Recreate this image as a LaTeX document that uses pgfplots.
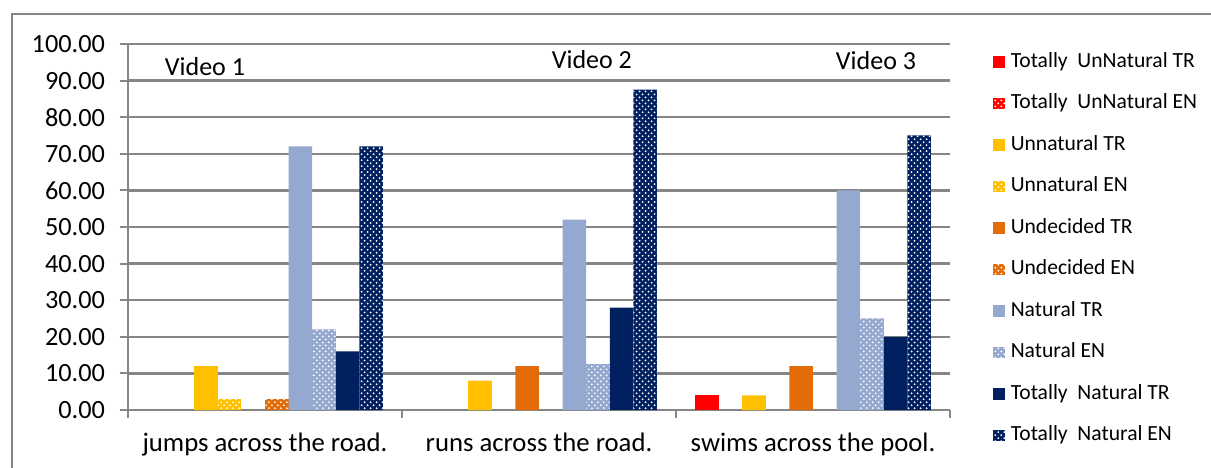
\documentclass[border=0pt]{standalone}
\usepackage{pgfplots}
\usepackage{pgfplotstable}
\pgfplotsset{compat=1.18}
\usepackage{fontspec}
\setmainfont{Carlito}
\usetikzlibrary{patterns}
\definecolor{cRed}{HTML}{FF0000}
\definecolor{cYel}{HTML}{FFC000}
\definecolor{cOra}{HTML}{E36C09}
\definecolor{cNat}{HTML}{95A9D0}
\definecolor{cNav}{HTML}{002060}
\definecolor{cGrid}{HTML}{868686}
\pgfplotstableread{
x TUTR TUEN UTR UEN DTR DEN NTR NEN TNTR TNEN
1 0 0 12 3 0 3 72 22 16 72
2 0 0 8 0 12 0 52 12.5 28 87.5
3 4 0 4 0 12 0 60 25 20 75
}\data
\begin{document}
\begin{tikzpicture}
\useasboundingbox (0,0) rectangle (605.5bp,234bp);
\draw[cGrid, line width=1.2bp] (6bp,-20bp) rectangle (640bp,227bp);
\begin{axis}[
  at={(64bp,29bp)}, anchor=south west, scale only axis,
  width=411bp, height=183bp,
  xmin=0.5, xmax=3.5, ymin=0, ymax=100,
  axis lines*=left,
  axis line style={cGrid, line width=1.2bp},
  ytick={0,10,...,100},
  ymajorgrids, grid style={cGrid, line width=1.2bp},
  tick align=outside, major tick length=4bp, minor tick length=4bp,
  tick style={cGrid, line width=1bp},
  xtick={1,2,3},
  xticklabels={jumps across the road., runs across the road., swims across the pool.},
  major x tick style={draw=none},
  minor xtick={0.5,1.5,2.5,3.5},
  minor x tick style={cGrid, line width=1bp},
  xticklabel style={font=\fontsize{13.35bp}{15bp}\selectfont, text=black, anchor=base, yshift=-16.5bp},
  yticklabel style={font=\fontsize{13.15bp}{15bp}\selectfont, text=black, xshift=-4bp},
  /pgf/number format/.cd, fixed, fixed zerofill, precision=2, assume math mode=true, /pgfplots/.cd,
  bar width=0.0861,
  sq/.style={legend image code/.code={\path[##1, draw=none] (0bp,-2.9bp) rectangle (5.8bp,2.9bp);}},
  nz/.style={y filter/.expression={y==0 ? nan : y}},
  unbounded coords=discard,
  legend style={draw=none, fill=none, at={(1.052,0.979)}, anchor=north west,
    font=\fontsize{10.8bp}{12bp}\selectfont, row sep=10.75bp, inner sep=0pt,
    nodes={inner sep=0pt, text height=7.5bp, text depth=2.5bp},
    /tikz/every odd column/.append style={column sep=3bp}},
  legend cell align=left,
  clip=false,
]
\addplot[ybar, nz, sq, bar shift=-0.3875, fill=cRed, draw=none] table[x=x, y=TUTR] {\data};
\addlegendentry{Totally\ \ UnNatural TR}
\addplot[ybar, nz, forget plot, bar shift=-0.3014, fill=cRed, draw=none, postaction={pattern=crosshatch dots, pattern color=white}] table[x=x, y=TUEN] {\data};
\addlegendimage{sq, fill=cRed, draw=none, postaction={pattern=crosshatch dots, pattern color=white}}
\addlegendentry{Totally\ \ UnNatural EN}
\addplot[ybar, nz, sq, bar shift=-0.2153, fill=cYel, draw=none] table[x=x, y=UTR] {\data};
\addlegendentry{Unnatural TR}
\addplot[ybar, nz, sq, bar shift=-0.1292, fill=cYel, draw=none, postaction={pattern=crosshatch dots, pattern color=white}] table[x=x, y=UEN] {\data};
\addlegendentry{Unnatural EN}
\addplot[ybar, nz, sq, bar shift=-0.0431, fill=cOra, draw=none] table[x=x, y=DTR] {\data};
\addlegendentry{Undecided TR}
\addplot[ybar, nz, sq, bar shift=0.0431, fill=cOra, draw=none, postaction={pattern=crosshatch dots, pattern color=white}] table[x=x, y=DEN] {\data};
\addlegendentry{Undecided EN}
\addplot[ybar, nz, sq, bar shift=0.1292, fill=cNat, draw=none] table[x=x, y=NTR] {\data};
\addlegendentry{Natural TR}
\addplot[ybar, nz, sq, bar shift=0.2153, fill=cNat, draw=none, postaction={pattern=crosshatch dots, pattern color=white}] table[x=x, y=NEN] {\data};
\addlegendentry{Natural EN}
\addplot[ybar, nz, sq, bar shift=0.3014, fill=cNav, draw=none] table[x=x, y=TNTR] {\data};
\addlegendentry{Totally\ \ Natural TR}
\addplot[ybar, nz, sq, bar shift=0.3875, fill=cNav, draw=none, postaction={pattern=crosshatch dots, pattern color=white}] table[x=x, y=TNEN] {\data};
\addlegendentry{Totally\ \ Natural EN}
\node[anchor=base, font=\fontsize{13bp}{15bp}\selectfont] at (axis cs:0.781,91.3) {Video 1};
\node[anchor=base, font=\fontsize{13bp}{15bp}\selectfont] at (axis cs:2.193,93.4) {Video 2};
\node[anchor=base, font=\fontsize{13bp}{15bp}\selectfont] at (axis cs:3.230,92.9) {Video 3};
\end{axis}
\end{tikzpicture}
\end{document}
